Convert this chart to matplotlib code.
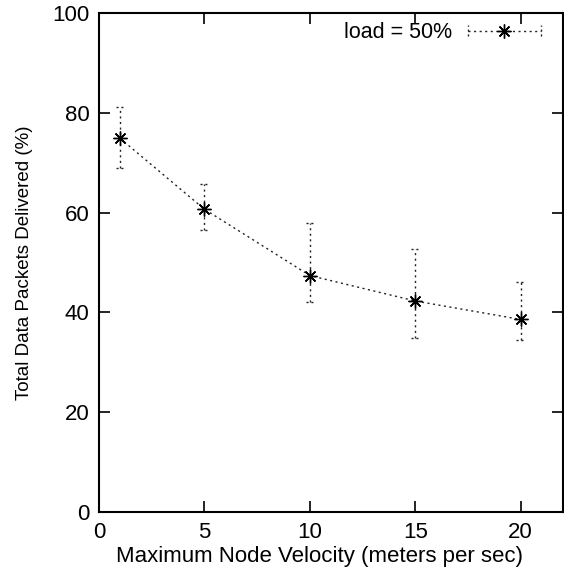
import numpy as np
import matplotlib.pyplot as plt
from matplotlib.lines import Line2D
from matplotlib.legend_handler import HandlerLine2D

plt.rcParams['font.family'] = ['Liberation Sans', 'DejaVu Sans']

# ==============================
# dados
# ==============================

velocidade = [1, 5, 10, 15, 20]
entregues = [74.9, 60.7, 47.4, 42.3, 38.6]
erro_sup = [81.1, 65.7, 57.9, 52.8, 46.1]
erro_inf = [68.9, 56.5, 42.1, 34.8, 34.5]

rotulo = "load = 50%"

fig = plt.figure(figsize=(5.64, 5.72), dpi=100)
ax = fig.add_axes([0.1755, 0.1049, 0.998 - 0.1755, 0.977 - 0.1049])

estrela = (8, 2, 0)
cor = "#222222"
pontilhado = (0, (1.5, 2.5))

# barras de erro pontilhadas (com tampas pontilhadas)
v = np.array(velocidade)
ax.vlines(v, erro_inf, erro_sup, colors=cor, linewidth=1.0,
          linestyles=[pontilhado])
meia = 0.2
ax.hlines(erro_sup, v - meia, v + meia, colors=cor, linewidth=1.0,
          linestyles=[(0, (1.5, 2.0))])
ax.hlines(erro_inf, v - meia, v + meia, colors=cor, linewidth=1.0,
          linestyles=[(0, (1.5, 2.0))])

ax.plot(velocidade, entregues, linestyle=pontilhado, color=cor,
        linewidth=1.0, marker=estrela, markersize=10, markeredgewidth=1.0,
        markeredgecolor="black")


# ==============================
# legenda estilo gnuplot
# ==============================

class HandlerGnuplot(HandlerLine2D):
    def create_artists(self, legend, orig_handle, xdescent, ydescent,
                       width, height, fontsize, trans):
        arts = super().create_artists(legend, orig_handle, xdescent, ydescent,
                                      width, height, fontsize, trans)
        y0 = height / 2 - ydescent
        for xx in (-xdescent, -xdescent + width):
            cap = Line2D([xx, xx], [y0 - 4, y0 + 4], color=cor,
                         linewidth=1.0, linestyle=(0, (1.5, 2.0)),
                         transform=trans)
            arts.append(cap)
        return arts


handle = Line2D([], [], linestyle=pontilhado, color=cor, linewidth=1.0,
                marker=estrela, markersize=10, markeredgewidth=1.0,
                markeredgecolor="black")
ax.legend([handle], [rotulo], loc="upper right", frameon=False,
          markerfirst=False, fontsize=15.5, handlelength=3.4,
          handletextpad=0.7, borderaxespad=0.3, bbox_to_anchor=(0.985, 1.012),
          handler_map={Line2D: HandlerGnuplot(numpoints=1)})

# ==============================
# eixos
# ==============================

ax.set_xlim(0, 22)
ax.set_ylim(0, 100)
ax.set_xticks([0, 5, 10, 15, 20])
ax.set_yticks([0, 20, 40, 60, 80, 100])

ax.set_xlabel("Maximum Node Velocity (meters per sec)", fontsize=16)
ax.xaxis.set_label_coords(0.476, -0.068)
ax.set_ylabel("Total Data Packets Delivered (%)", fontsize=13.5, labelpad=14)

ax.tick_params(direction="in", length=8, width=1.2, top=True, right=True,
               labelsize=16, pad=7, colors="black")
for s in ax.spines.values():
    s.set_linewidth(1.5)
    s.set_color("black")

fig.savefig("out.png", dpi=100)
plt.close()
